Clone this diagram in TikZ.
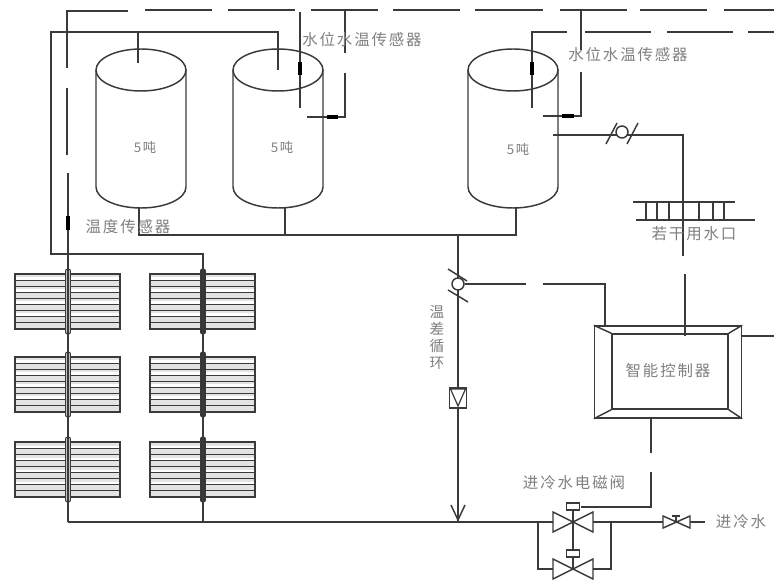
\documentclass[tikz,border=0pt]{standalone}
\usepackage{fontspec}
\setmainfont{Noto Sans CJK SC}[LetterSpace=12]
\begin{document}
\begin{tikzpicture}[x=0.75pt,y=-0.75pt,
  pipe/.style={draw=ln,line width=1.1pt},
  sens/.style={draw=black,line width=3pt},
  lab/.style={text=tx,font=\fontsize{11.6}{13}\selectfont,inner sep=0pt},
  box/.style={draw=ln,line width=1.1pt,inner sep=0pt,fill=white,rectangle}]
\definecolor{ln}{HTML}{3A3A3A}
\definecolor{tx}{HTML}{808080}
\useasboundingbox (0,0) rectangle (774,580);
\fill[white] (0,0) rectangle (774,580);

% radiators
\foreach \cx/\tubefill in {68/gray!45,203/black!80}{
  \foreach \ry in {274,357,442}{
    \fill[gray!22] (\cx-53,\ry) rectangle (\cx+52,\ry+55);
    \foreach \k in {1,...,4}{\fill[white] (\cx-53,\ry+12*\k-8.5) rectangle (\cx+52,\ry+12*\k-5.5);}
    \foreach \k in {0,...,9}{\draw[draw=ln,line width=0.8pt] (\cx-53,\ry+6.11*\k) -- (\cx+52,\ry+6.11*\k);}
    \draw[pipe] (\cx-53,\ry) rectangle (\cx+52,\ry+55);
    \draw[draw=ln,line width=0.7pt,fill=\tubefill,rounded corners=1.5pt] (\cx-2.5,\ry-5) rectangle (\cx+2.5,\ry+60);
  }
}

% tanks
\foreach \n/\cx/\tx/\ty in {t1/141/145/147,t2/278/282/147,t3/513/518/149}{
  \draw[pipe] (\cx-45,70) -- (\cx-45,187) arc[start angle=180,end angle=0,x radius=45,y radius=21] -- (\cx+45,70);
  \draw[pipe] (\cx,70) ellipse[x radius=45,y radius=21];
  \coordinate (\n b) at (\cx,208);
  \node[lab,font=\fontsize{10}{12}\selectfont] (\n l) at (\tx,\ty) {5吨};
}

% main hot pipe
\coordinate (ja) at (139,235); \coordinate (jb) at (285,235); \coordinate (jc) at (458,235); \coordinate (jd) at (516,235);
\draw[pipe] (139,208) -- (ja) -- (jd) -- (516,208);
\draw[pipe] (285,208) -- (jb);
\draw[pipe] (jc) -- (458,522);

% collector frame
\draw[pipe] (138,63) -- (138,32);
\draw[pipe] (278,70) -- (278,32) -- (51,32) -- (51,254) -- (203,254) -- (203,522);
\draw[pipe] (68,254) -- (68,522);
\draw[pipe] (68,522) -- (705,522);

% dashed sensor line
\foreach \a/\b in {145/212,228/295,311/378,393/460,475/543,560/627,640/707,724/774}{
  \draw[pipe] (\a,10) -- (\b,10);}
\draw[pipe] (128,11) -- (67,11) -- (67,68);
\draw[pipe] (67,88) -- (67,155);
\draw[pipe] (68,173) -- (68,254);
\draw[sens] (68,216) -- (68,230);

% tank 2 sensors
\draw[pipe] (300,12) -- (300,108);
\draw[sens] (300,62) -- (300,75);
\draw[pipe] (345,10) -- (345,53);
\draw[pipe] (345,73) -- (345,117) -- (307,117);
\draw[sens] (327,117) -- (338,117);

% tank 3 sensors, second dashed line
\draw[pipe] (567,32) -- (532,32) -- (532,108);
\draw[sens] (532,62) -- (532,75);
\foreach \a/\b in {585/651,667/733,748/774}{\draw[pipe] (\a,32) -- (\b,32);}
\draw[pipe] (581,10) -- (581,50);
\draw[pipe] (581,72) -- (581,116) -- (543,116);
\draw[sens] (562,116) -- (574,116);

% outlet and valve
\draw[pipe] (553,135) -- (683,135) -- (683,256);
\node[box,circle,minimum size=9] (v1) at (622,132) {};
\draw[pipe] (606,144) -- (617,123);
\draw[pipe] (627,144) -- (638,123);

% manifold
\draw[pipe] (633,202) -- (735,202);
\draw[pipe] (636,220) -- (755,220);
\foreach \x in {646,657,669,699,713,724}{\draw[pipe] (\x,202) -- (\x,220);}

% circulation valve
\node[box,circle,minimum size=9] (v2) at (458,284) {};
\draw[pipe] (448,269) -- (467,281);
\draw[pipe] (448,290) -- (468,302);
\draw[pipe] (v2.east) -- (526,284);
\draw[pipe] (543,284) -- (605,284) -- (605,326);

% flow meter
\node[box,minimum width=12.5pt,minimum height=15pt] (fm) at (458,398) {};
\draw[draw=ln,line width=0.9pt] (450.5,389) -- (465.5,389) -- (458,406) -- cycle;

% arrow
\draw[pipe] (451,505) -- (458,520) -- (465,505);

% controller
\node[box,minimum width=110.25pt,minimum height=69pt] (ctrl) at (668,372) {};
\node[box,minimum width=87pt,minimum height=56.25pt] (ctin) at (670,371.5) {};
\foreach \c in {north west,north east,south west,south east}{\draw[pipe] (ctrl.\c) -- (ctin.\c);}
\draw[pipe] (685,274) -- (685,336);
\draw[pipe] (ctrl.east |- 0,336) -- (774,336);
\draw[pipe] (651,418) -- (651,453);
\draw[pipe] (651,472) -- (651,507) -- (581,507);

% main valves
\foreach \vy in {522,569}{
  \draw[pipe,fill=white] (553,\vy-10) -- (593,\vy+10) -- (593,\vy-10) -- (553,\vy+10) -- cycle;
}
\node[box,minimum width=9.5pt,minimum height=5.5pt] (a1) at (573,506.5) {};
\node[box,minimum width=9.5pt,minimum height=5.5pt] (a2) at (573,553.5) {};
\draw[pipe] (a1.south) -- (a2.north);
\draw[pipe] (a2.south) -- (573,569);
\draw[pipe] (538,522) -- (538,569) -- (553,569);
\draw[pipe] (611,522) -- (611,569) -- (593,569);

% small valve
\draw[pipe,fill=white] (663,516) -- (690,528) -- (690,516) -- (663,528) -- cycle;
\draw[pipe] (676,522) -- (676,516);
\draw[pipe] (672,516) -- (680,516);

% labels
\node[lab] (s1) at (362,40) {水位水温传感器};
\node[lab] (s2) at (628,55) {水位水温传感器};
\node[lab] (s3) at (128,227) {温度传感器};
\node[lab] (o1) at (694,234) {若干用水口};
\node[lab] (c1) at (668,371) {智能控制器};
\node[lab] (i1) at (574,483) {进冷水电磁阀};
\node[lab] (i2) at (741,522) {进冷水};
\node[lab,align=center,font=\fontsize{11}{12.75}\selectfont] (d1) at (437,337) {温\\差\\循\\环};
\end{tikzpicture}
\end{document}
